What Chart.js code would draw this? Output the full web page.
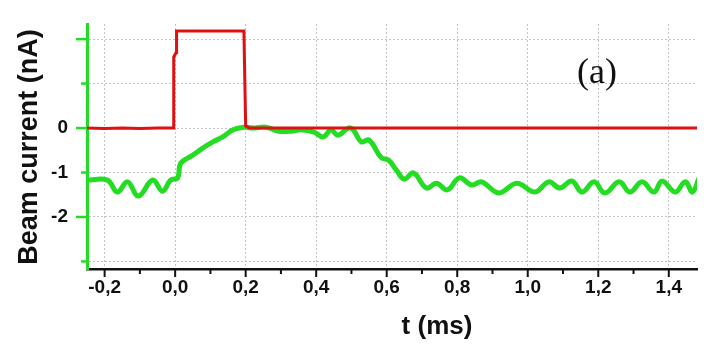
<!DOCTYPE html>
<html>
<head>
<meta charset="utf-8">
<script src="https://cdn.jsdelivr.net/npm/chart.js@4.4.0/dist/chart.umd.min.js"></script>
<style>
  html, body { margin: 0; padding: 0; background: #fff; }
</style>
</head>
<body>
<canvas id="beamChart" width="710" height="345"></canvas>
<script>
// time (ms) and beam current (nA)
const tRed = [-0.25, -0.2, -0.15, -0.1, -0.05, -0.005, -0.004, 0.003, 0.004, 0.195, 0.2, 0.21, 1.48];
const iRed = [0, -0.01, 0, -0.01, 0, 0, 1.6, 1.7, 2.18, 2.18, 0.05, 0, 0];

const tGreen = [-0.25, -0.192, -0.164, -0.135, -0.104, -0.064, -0.036, -0.013, 0.007, 0.016,
  0.05, 0.078, 0.107, 0.135, 0.164, 0.195, 0.22, 0.257, 0.294, 0.329, 0.357, 0.394, 0.42,
  0.442, 0.462, 0.491, 0.505, 0.528, 0.55, 0.585, 0.605, 0.627, 0.65, 0.676, 0.713, 0.741,
  0.772, 0.806, 0.841, 0.869, 0.918, 0.969, 1.02, 1.06, 1.091, 1.125, 1.154, 1.188, 1.219,
  1.259, 1.29, 1.324, 1.358, 1.381, 1.418, 1.447, 1.467, 1.486];
const iGreen = [-1.17, -1.17, -1.44, -1.21, -1.53, -1.17, -1.42, -1.17, -1.12, -0.79,
  -0.61, -0.45, -0.31, -0.2, -0.04, 0.02, 0, 0.02, -0.07, -0.07, -0.04, -0.09, -0.2,
  -0.04, -0.16, 0, -0.04, -0.31, -0.27, -0.67, -0.72, -0.94, -1.15, -1.01, -1.35, -1.24,
  -1.39, -1.12, -1.28, -1.21, -1.46, -1.24, -1.44, -1.21, -1.35, -1.19, -1.44, -1.21, -1.46,
  -1.21, -1.44, -1.21, -1.44, -1.19, -1.44, -1.21, -1.44, -1.12];

const xMajor = [-0.2, 0, 0.2, 0.4, 0.6, 0.8, 1.0, 1.2, 1.4];
const xMinor = [-0.1, 0.1, 0.3, 0.5, 0.7, 0.9, 1.1, 1.3];
const yTicks = [-3, -2, -1, 0, 1, 2];
const yLabelled = [0, -1, -2];
const yMajor = [2, 0, -2];
const yMinor = [1, -1, -3];

const GREEN = "#22dd22";
const RED = "#dd1111";
const FONT = "'Liberation Sans', Arial, sans-serif";

const toPoints = (xs, ys) => xs.map((x, i) => ({ x: x, y: ys[i] }));

// tick marks, axis titles and the panel letter
const decorPlugin = {
  id: "decor",
  afterDraw(chart) {
    const ctx = chart.ctx;
    const xs = chart.scales.x;
    const ys = chart.scales.y;
    const area = chart.chartArea;
    ctx.save();
    ctx.strokeStyle = "#111";
    ctx.lineWidth = 2;
    xMajor.forEach((v) => {
      const px = xs.getPixelForValue(v);
      ctx.beginPath(); ctx.moveTo(px, area.bottom); ctx.lineTo(px, area.bottom + 8); ctx.stroke();
    });
    xMinor.forEach((v) => {
      const px = xs.getPixelForValue(v);
      ctx.beginPath(); ctx.moveTo(px, area.bottom); ctx.lineTo(px, area.bottom + 5); ctx.stroke();
    });
    ctx.strokeStyle = GREEN;
    ctx.lineWidth = 2.5;
    yMajor.forEach((v) => {
      const py = ys.getPixelForValue(v);
      ctx.beginPath(); ctx.moveTo(area.left, py); ctx.lineTo(area.left - 11, py); ctx.stroke();
    });
    yMinor.forEach((v) => {
      const py = ys.getPixelForValue(v);
      ctx.beginPath(); ctx.moveTo(area.left, py); ctx.lineTo(area.left - 6, py); ctx.stroke();
    });

    ctx.fillStyle = "#111";
    ctx.font = "bold 26px " + FONT;
    ctx.textAlign = "center";
    ctx.textBaseline = "middle";
    ctx.fillText("t (ms)", 437, 327);

    ctx.save();
    ctx.translate(37, 147);
    ctx.rotate(-Math.PI / 2);
    ctx.font = "bold 27px " + FONT;
    ctx.textBaseline = "alphabetic";
    ctx.fillText("Beam current (nA)", 0, 0);
    ctx.restore();

    ctx.font = "36px 'Liberation Serif', 'Times New Roman', serif";
    ctx.fillText("(a)", 597, 74);
    ctx.restore();
  },
};

const beamChart = new Chart(document.getElementById("beamChart").getContext("2d"), {
  type: "line",
  data: {
    datasets: [
      {
        label: "red",
        data: toPoints(tRed, iRed),
        borderColor: RED,
        borderWidth: 3,
        pointRadius: 0,
        tension: 0,
      },
      {
        label: "green",
        data: toPoints(tGreen, iGreen),
        borderColor: GREEN,
        borderWidth: 5,
        pointRadius: 0,
        tension: 0.4,
      },
    ],
  },
  options: {
    responsive: false,
    animation: false,
    layout: { padding: { top: 24, right: 13, left: 0, bottom: 0 } },
    plugins: { legend: { display: false }, tooltip: { enabled: false } },
    scales: {
      x: {
        type: "linear",
        min: -0.25,
        max: 1.48,
        afterBuildTicks: (axis) => { axis.ticks = xMajor.map((v) => ({ value: v })); },
        afterFit: (axis) => { axis.height = 76; axis.paddingLeft = 0; axis.paddingRight = 0; },
        ticks: {
          callback: (v) => Number(v).toFixed(1).replace(".", ","),
          font: { family: FONT, size: 19, weight: "bold" },
          color: "#111",
          padding: 7,
          maxRotation: 0,
          autoSkip: false,
        },
        grid: { color: "#c4c4c4", lineWidth: 1, drawTicks: false },
        border: { color: "#111", width: 2.5, dash: [2, 2] },
      },
      y: {
        min: -3.17,
        max: 2.34,
        afterBuildTicks: (axis) => { axis.ticks = yTicks.map((v) => ({ value: v })); },
        afterFit: (axis) => { axis.width = 87; axis.paddingTop = 0; axis.paddingBottom = 0; },
        ticks: {
          callback: (v) => (yLabelled.includes(v) ? String(v) : ""),
          font: { family: FONT, size: 19, weight: "bold" },
          color: "#111",
          padding: 19,
        },
        grid: { color: "#c4c4c4", lineWidth: 1, drawTicks: false },
        border: { color: GREEN, width: 3, dash: [2, 2] },
      },
    },
  },
  plugins: [decorPlugin],
});
</script>
</body>
</html>
